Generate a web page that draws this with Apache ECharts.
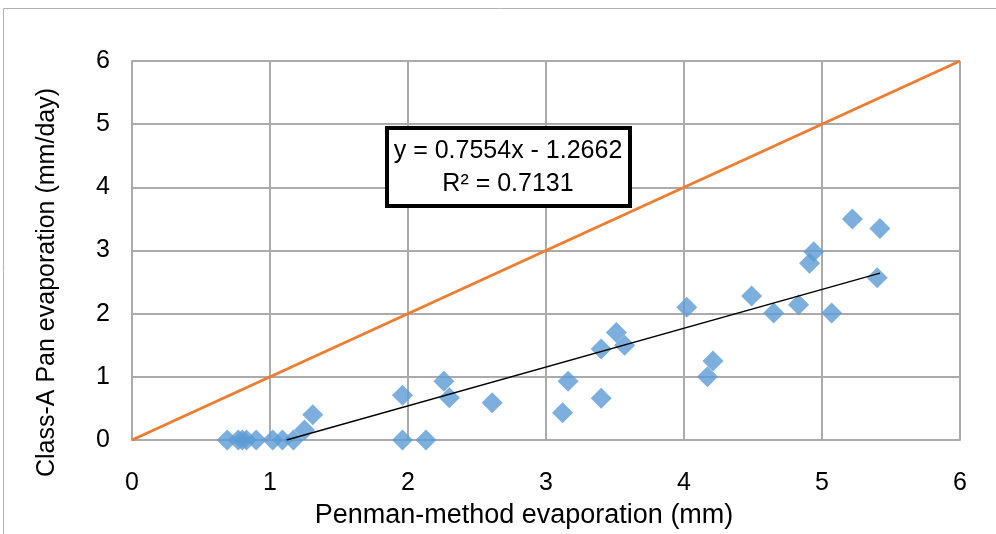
<!DOCTYPE html>
<html>
<head>
<meta charset="utf-8">
<script src="https://cdn.jsdelivr.net/npm/echarts@6/dist/echarts.min.js"></script>
<style>
  html, body { margin: 0; padding: 0; background: #fff; }
  #chart { width: 996px; height: 534px; }
</style>
</head>
<body>
<div id="chart"></div>
<script>
// observed points: Penman (mm) vs Class-A Pan (mm/day)
const penmanX = [0.69, 0.77, 0.80, 0.83, 0.90, 1.02, 1.09, 1.17, 1.25, 1.31,
  1.96, 1.96, 2.13, 2.26, 2.30, 2.61, 3.12, 3.16, 3.40, 3.40,
  3.51, 3.57, 4.02, 4.17, 4.21, 4.49, 4.65, 4.83, 4.91, 4.94,
  5.07, 5.22, 5.40, 5.42];
const panY = [0, 0, 0, 0, 0, 0, 0, 0, 0.16, 0.40,
  0.71, 0, 0, 0.93, 0.67, 0.59, 0.43, 0.93, 0.66, 1.44,
  1.70, 1.50, 2.10, 1.00, 1.25, 2.28, 2.01, 2.14, 2.80, 2.98,
  2.01, 3.50, 2.57, 3.35];
// 1:1 line and fitted trend line end points
const oneToOneX = [0, 6];
const oneToOneY = [0, 6];
const trendX = [1.12, 5.42];
const trendY = [0, 2.64];
const axisTicks = [0, 1, 2, 3, 4, 5, 6];
const eqText = "y = 0.7554x - 1.2662";
const r2Text = "R² = 0.7131";

const font = "'Liberation Sans', sans-serif";
const gridColor = "#ababab";

const myChart = echarts.init(document.getElementById("chart"));
const option = {
  animation: false,
  backgroundColor: "#fff",
  grid: { left: 132, right: 36, top: 61, bottom: 94 },
  xAxis: {
    type: "value",
    min: axisTicks[0],
    max: axisTicks[axisTicks.length - 1],
    interval: 1,
    name: "Penman-method evaporation (mm)",
    nameLocation: "middle",
    nameGap: 62,
    nameTextStyle: { fontFamily: font, fontSize: 27, color: "#000", padding: [0, 44, 0, 0] },
    axisLine: { show: true, lineStyle: { color: gridColor, width: 2 } },
    axisTick: { show: false },
    axisLabel: { fontFamily: font, fontSize: 25, color: "#000", margin: 31 },
    splitLine: { show: true, lineStyle: { color: gridColor, width: 2 } }
  },
  yAxis: {
    type: "value",
    min: axisTicks[0],
    max: axisTicks[axisTicks.length - 1],
    interval: 1,
    name: "Class-A Pan evaporation (mm/day)",
    nameLocation: "middle",
    nameGap: 72,
    nameTextStyle: { fontFamily: font, fontSize: 25, color: "#000", padding: [0, 64, 0, 0] },
    axisLine: { show: true, lineStyle: { color: gridColor, width: 2 } },
    axisTick: { show: false },
    axisLabel: { fontFamily: font, fontSize: 25, color: "#000", margin: 22 },
    splitLine: { show: true, lineStyle: { color: gridColor, width: 2 } }
  },
  graphic: [
    {
      type: "rect",
      silent: true,
      shape: { x: 3.5, y: 8.5, width: 1100, height: 600 },
      style: { fill: "none", stroke: "#b0b0b0", lineWidth: 1 }
    },
    {
      type: "rect",
      z: 100,
      shape: { x: 387, y: 128, width: 243, height: 78 },
      style: { fill: "#fff", stroke: "#000", lineWidth: 4 }
    },
    {
      type: "text",
      z: 101,
      x: 508, y: 135,
      style: {
        text: eqText + "\n" + r2Text,
        fontFamily: font, fontSize: 25, lineHeight: 33,
        fill: "#000", align: "center"
      }
    }
  ],
  series: [
    {
      type: "line",
      data: oneToOneX.map((x, i) => [x, oneToOneY[i]]),
      showSymbol: false,
      symbol: "none",
      lineStyle: { color: "#ed7d31", width: 3 },
      z: 2
    },
    {
      type: "scatter",
      data: penmanX.map((x, i) => [x, panY[i]]),
      symbol: "diamond",
      symbolSize: 21,
      itemStyle: { color: "#5b9bd5" },
      z: 3
    },
    {
      type: "line",
      data: trendX.map((x, i) => [x, trendY[i]]),
      showSymbol: false,
      symbol: "none",
      lineStyle: { color: "#000", width: 1.3 },
      z: 4
    }
  ]
};
myChart.setOption(option);
window.addEventListener("resize", () => myChart.resize());
</script>
</body>
</html>
